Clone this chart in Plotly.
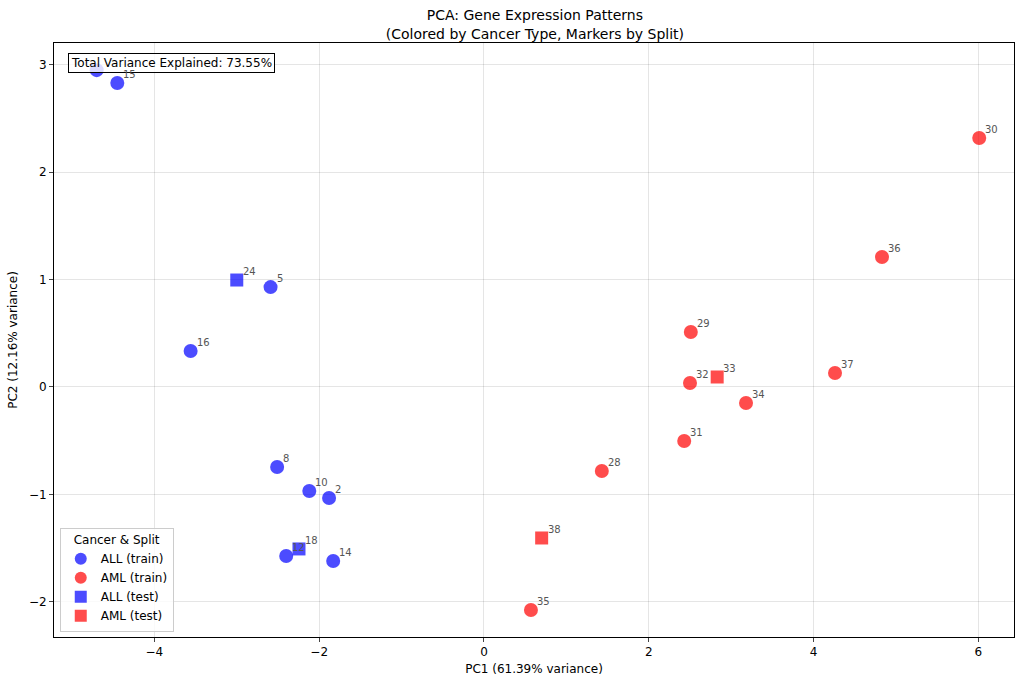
import plotly.graph_objects as go

# Data
all_train_x = [-4.70, -4.45, -2.59, -3.56, -2.51, -2.12, -1.88, -2.40, -1.83]
all_train_y = [2.95, 2.83, 0.93, 0.335, -0.745, -0.968, -1.034, -1.574, -1.620]
all_train_lbl = ["", "15", "5", "16", "8", "10", "2", "12", "14"]

aml_train_x = [6.01, 4.83, 2.51, 2.50, 4.26, 3.18, 2.43, 1.43, 0.57]
aml_train_y = [2.318, 1.21, 0.512, 0.037, 0.130, -0.149, -0.503, -0.782, -2.076]
aml_train_lbl = ["30", "36", "29", "32", "37", "34", "31", "28", "35"]

all_test_x = [-3.00, -2.245]
all_test_y = [0.996, -1.508]
all_test_lbl = ["24", "18"]

aml_test_x = [2.83, 0.70]
aml_test_y = [0.093, -1.406]
aml_test_lbl = ["33", "38"]

xticks = [-4, -2, 0, 2, 4, 6]
yticks = [-2, -1, 0, 1, 2, 3]

BLUE = "rgba(0,0,255,0.7)"
RED = "rgba(255,0,0,0.7)"

fig = go.Figure()
series = [
    ("ALL (train)", all_train_x, all_train_y, all_train_lbl, BLUE, "circle", 14),
    ("AML (train)", aml_train_x, aml_train_y, aml_train_lbl, RED, "circle", 14),
    ("ALL (test)", all_test_x, all_test_y, all_test_lbl, BLUE, "square", 13),
    ("AML (test)", aml_test_x, aml_test_y, aml_test_lbl, RED, "square", 13),
]
annotations = [dict(
    x=0.015, y=0.984, xref="paper", yref="paper", xanchor="left", yanchor="top",
    text="Total Variance Explained: 73.55%", showarrow=False,
    font=dict(size=12, color="black", family="DejaVu Sans"),
    bgcolor="rgba(255,255,255,0.8)", bordercolor="black", borderwidth=1, borderpad=2,
)]
for name, xs, ys, lbls, col, sym, sz in series:
    fig.add_trace(go.Scatter(
        x=xs, y=ys, mode="markers", name=name,
        marker=dict(color=col, symbol=sym, size=sz, line=dict(width=0)),
    ))
    for x, y, t in zip(xs, ys, lbls):
        if not t:
            continue
        annotations.append(dict(
            x=x, y=y, xref="x", yref="y", text=t, showarrow=False,
            xanchor="left", yanchor="bottom", xshift=4, yshift=1,
            font=dict(size=10, color="#555555", family="DejaVu Sans"),
        ))

fig.update_layout(
    width=1015, height=677,
    margin=dict(l=54, r=1, t=43, b=40),
    paper_bgcolor="white", plot_bgcolor="white",
    font=dict(family="DejaVu Sans", size=12, color="black"),
    title=dict(
        text="PCA: Gene Expression Patterns<br>(Colored by Cancer Type, Markers by Split)",
        x=0.527, xanchor="center", y=0.970, yanchor="top",
        font=dict(size=14, color="black"),
    ),
    annotations=annotations,
    showlegend=True,
    legend=dict(
        title=dict(text="Cancer & Split", side="top center", font=dict(size=12)),
        x=0.006, y=0.009, xanchor="left", yanchor="bottom",
        bgcolor="rgba(255,255,255,0.8)", bordercolor="#cccccc", borderwidth=1,
        font=dict(size=12), itemsizing="constant", tracegroupgap=0,
    ),
    xaxis=dict(
        range=[-5.218, 6.432], tickvals=xticks, showgrid=True,
        gridcolor="rgba(0,0,0,0.1)", zeroline=False, showline=True, mirror=True,
        linecolor="black", linewidth=1, ticks="outside", ticklen=4,
        title=dict(text="PC1 (61.39% variance)", font=dict(size=12), standoff=6),
    ),
    yaxis=dict(
        range=[-2.328, 3.203], tickvals=yticks, showgrid=True,
        gridcolor="rgba(0,0,0,0.1)", zeroline=False, showline=True, mirror=True,
        linecolor="black", linewidth=1, ticks="outside", ticklen=4,
        title=dict(text="PC2 (12.16% variance)", font=dict(size=12), standoff=8),
    ),
)

fig.write_html(
    "out.html",
    config={"displayModeBar": False},
    post_script="document.body.style.margin='0';document.body.style.overflow='hidden';",
)
